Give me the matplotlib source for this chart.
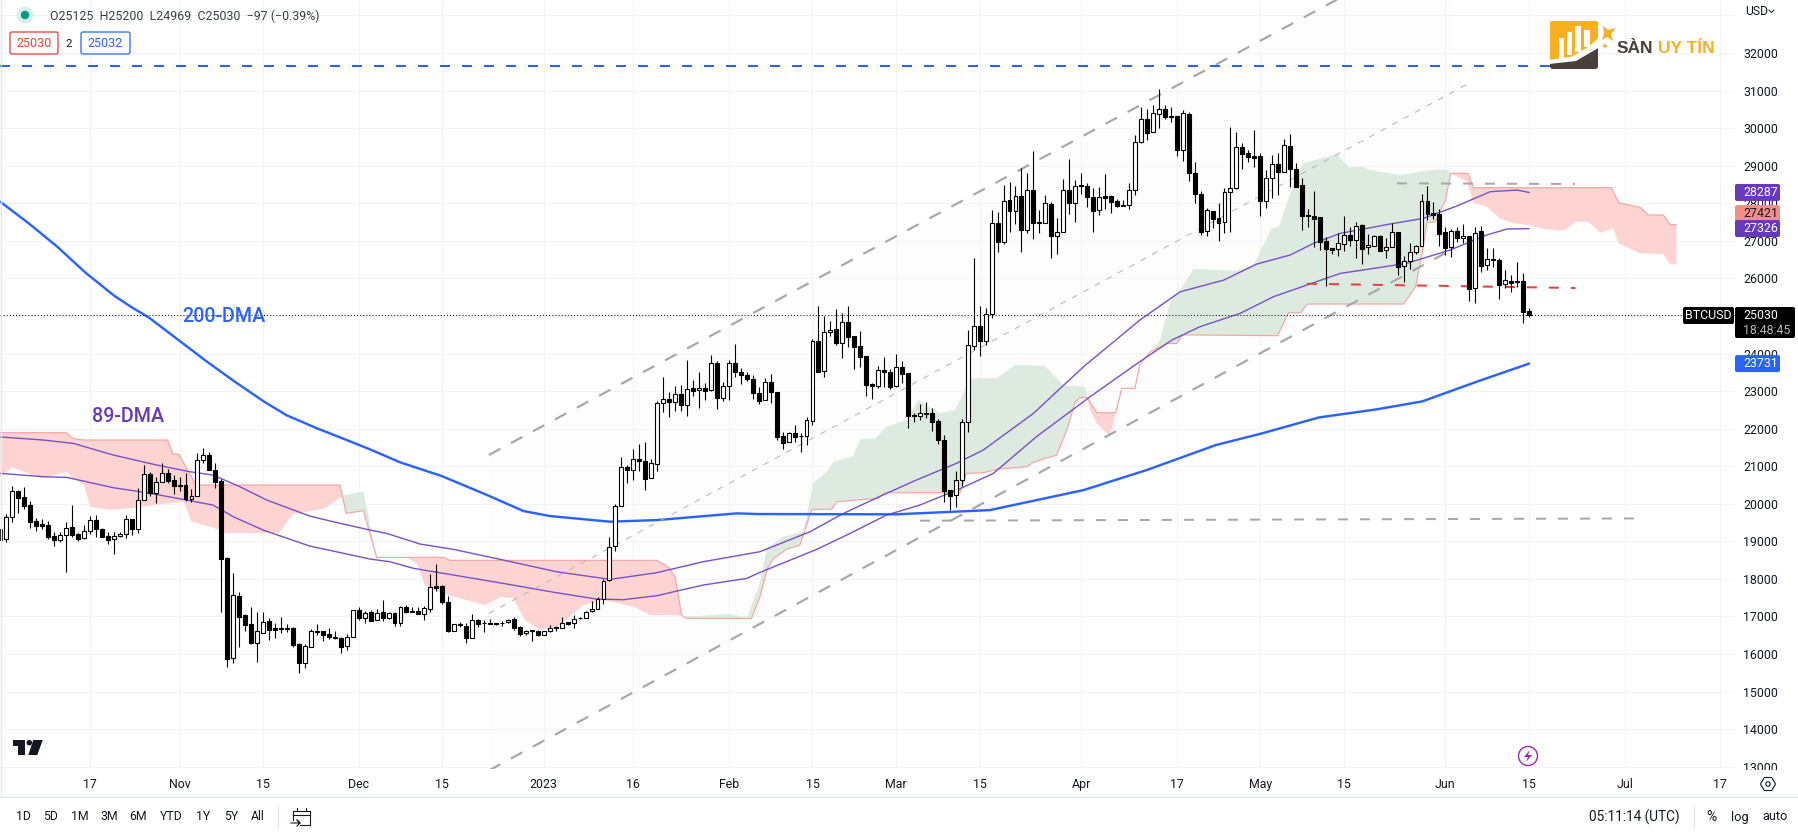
import numpy as np
import matplotlib
matplotlib.use("Agg")
import matplotlib.pyplot as plt
from matplotlib.patches import Rectangle, FancyBboxPatch, Polygon, Circle, RegularPolygon

plt.rcParams['font.family'] = ['Roboto', 'DejaVu Sans']
plt.rcParams['lines.scale_dashes'] = False

# ---- daily BTCUSD candles, 2 Oct 2022 to 15 Jun 2023 ----
opens = [19319,19052,19638,20339,20170,19958,19531,19452,19425,19132,
19043,19159,19372,19185,19079,19265,19567,19319,19132,19052,
19150,19203,19585,19336,20091,20783,20295,20588,20818,20623,
20499,20499,20135,20197,21156,21289,20889,20597,18546,15902,
17552,17029,16789,16301,16567,16869,16692,16692,16683,16683,
16266,15751,16194,16585,16603,16523,16443,16416,16203,16443,
17162,16967,17109,16896,17109,16958,17083,16834,17242,17145,
17145,17074,17207,17810,17810,17375,16621,16790,16745,16435,
16896,16834,16816,16790,16834,16843,16923,16710,16550,16630,
16603,16515,16621,16710,16683,16843,16816,16958,16949,17136,
17189,17455,17961,18866,19931,20979,20890,21183,21130,20677,
21067,22674,22780,22700,22913,22620,23073,23020,23073,23020,
23739,22825,23126,23739,23499,23428,23313,22939,22752,23231,
22965,21794,21634,21874,21812,21794,22193,24323,23525,24572,
24643,24270,24829,24456,24190,23924,23178,23143,23551,23498,
23143,23631,23471,22362,22344,22424,22406,22193,21687,20356,
20223,20622,22184,24199,24740,24341,25042,27465,26977,28077,
27802,28184,27296,28344,27500,27483,27971,27137,27243,28344,
28015,28477,28450,28157,27811,28184,28184,28051,27918,27962,
28344,29630,30234,29905,30385,30500,30322,30314,29426,30367,
28796,28237,27252,27802,27598,27509,28290,28396,29488,29328,
29249,29249,28068,28663,29036,28840,29524,28903,28477,27678,
27660,27625,26985,26799,26790,26923,27145,27030,27412,26826,
26870,27119,26746,26843,27225,26320,26471,26710,26870,28050,
27731,27704,27225,26826,27260,27074,27119,25734,27252,26346,
26506,26480,25841,25920,25920,25920,25125]
highs = [19319,19727,20472,20366,20437,20064,19611,19585,19540,19256,
19239,19505,19958,19212,19434,19673,19691,19354,19239,19239,
19239,19691,19594,20410,21031,20836,20721,21076,20916,20765,
20703,20810,20383,21342,21475,21369,21076,20659,18591,18147,
17641,17055,17242,17126,17109,16967,16825,16976,16789,16727,
16292,16266,16656,16789,16612,16683,16603,16443,16523,17180,
17242,17135,17171,17188,17429,17127,17127,17287,17296,17260,
17260,17278,18121,18396,17837,17544,16799,16861,16816,17056,
16923,16905,16923,16834,16878,16923,16994,16754,16639,16639,
16630,16621,16772,16754,16976,16861,17029,16976,17145,17411,
17526,17988,19106,19994,21236,21032,21458,21591,21635,21183,
22745,23375,22984,23144,23153,23828,23295,23499,23206,23961,
23792,23251,23828,24254,23606,23499,23428,23118,23338,23454,
22983,21918,21900,22096,21891,22300,24377,25264,25007,24856,
25184,25069,25264,24474,24598,23933,23205,23666,23897,23578,
23977,23800,23489,22424,22646,22717,22539,22264,21830,20365,
20871,22264,24625,26542,25264,25220,27820,27776,28486,28574,
28468,28929,28796,29391,27820,28210,28042,27598,28636,29178,
28619,28796,28530,28397,28441,28770,28202,28113,28086,28530,
29817,30553,30500,30615,31041,30615,30553,30314,30482,30420,
29098,28335,27873,27802,27997,28397,30030,29897,29595,29417,
29941,29328,28885,29284,29346,29701,29843,29080,28663,27838,
28326,27634,27092,26799,27198,27660,27376,27491,27438,27181,
27154,27145,27065,27465,27234,26604,26932,26888,28237,28459,
28042,27837,27358,27314,27376,27438,27127,27376,27394,26799,
26799,26533,26222,26089,26435,26134,25200]
lows = [19043,18990,19523,19762,19860,19363,19283,19319,19052,18884,
18990,18191,19105,19017,19061,19194,19123,19105,18937,18671,
19123,19097,19177,19230,20091,20206,20029,20588,20561,20268,
20348,20073,20055,20197,21094,20907,20428,17126,15662,15769,
16194,16612,16266,15795,16550,16372,16425,16567,16576,16194,
15502,15627,16177,16496,16345,16399,16407,16035,16106,16443,
16896,16834,16878,16896,16887,16923,16745,16745,17083,17127,
17065,16905,17127,17686,17322,16594,16621,16710,16302,16435,
16710,16594,16790,16772,16745,16834,16639,16488,16506,16355,
16488,16515,16577,16621,16683,16772,16701,16923,16949,17127,
17189,17340,17935,18751,19931,20553,20633,20881,20375,20677,
20881,22452,22319,22479,22479,22345,22869,22558,22762,23011,
22523,22745,22762,23384,23197,23277,22780,22655,22752,22690,
21696,21466,21634,21652,21386,21572,22087,23516,23383,24465,
24226,23880,24181,23587,23649,22877,22797,23090,23116,23063,
23098,23205,22025,22176,22229,22273,21936,21590,20054,19833,
19921,20480,21918,24092,23942,24226,24953,26711,26915,27243,
27447,26711,27199,27057,27217,27465,26551,26657,27243,27713,
27509,28237,27909,27243,27696,27838,27731,27891,27918,27856,
28210,29595,29683,29905,30012,30234,30172,29266,29133,28601,
28015,27163,27136,27332,27003,27216,27243,28370,28911,29107,
28956,27669,27873,28148,28219,28840,28441,28441,27287,27376,
26844,26755,25805,26648,26595,26728,26861,26533,26382,26648,
26861,26719,26551,26843,26098,25894,26240,26648,26870,27553,
27571,26870,26622,26577,26959,26932,25406,25352,26160,26222,
26311,25441,25734,25645,25778,24820,24969]
closes = [19043,19638,20330,20162,19949,19523,19407,19416,19123,19043,
19159,19363,19177,19061,19265,19558,19336,19123,19043,19150,
19203,19585,19336,20091,20783,20277,20588,20810,20614,20481,
20481,20117,20197,21156,21289,20907,20588,18537,15875,17561,
16993,16780,16292,16603,16860,16647,16647,16674,16665,16248,
15760,16203,16603,16603,16514,16452,16416,16186,16443,17162,
16967,17100,16887,17100,16958,17083,16834,17242,17118,17127,
17074,17225,17775,17766,17375,16612,16790,16763,16435,16896,
16807,16825,16790,16834,16816,16914,16701,16541,16621,16603,
16515,16621,16683,16683,16834,16807,16941,16949,17109,17189,
17455,17935,18858,19931,20970,20890,21183,21130,20668,21076,
22674,22780,22718,22913,22638,23047,23011,23073,23011,23739,
22825,23126,23739,23499,23419,23322,22940,22743,23249,22965,
21785,21625,21874,21785,21794,22220,24323,23516,24563,24634,
24288,24829,24447,24181,23915,23161,23143,23551,23498,23116,
23631,23462,22344,22344,22424,22397,22184,21696,20347,20214,
20622,22167,24217,24740,24341,25042,27465,26977,28051,27802,
28184,27296,28344,27483,27483,27997,27137,27243,28344,28015,
28468,28450,28175,27802,28157,28148,28042,27918,27962,28344,
29639,30234,29879,30394,30500,30305,30305,29426,30394,28814,
28237,27234,27811,27589,27483,28290,28414,29488,29320,29231,
29213,28068,28663,29036,28840,29542,28903,28441,27669,27651,
27589,26977,26790,26764,26932,27145,27021,27385,26790,26879,
27119,26737,26843,27225,26311,26471,26710,26853,28050,27713,
27695,27190,26817,27252,27065,27119,25725,27216,26337,26506,
26480,25832,25947,25885,25894,25113,25030]

# ---- moving averages (day index, price) ----
dma200_x = [0,4.8,9.5,14.3,19.1,22,24.9,29.7,34.5,39.3,44.1,47.9,52.8,58,61.9,67,73.9,81.5,87.6,92,102.1,110,123.3,127,150,165.7,181.4,192,203.6,211.2,220.8,230.4,238.1,247.7,256]
dma200_y = [28038,27458,26847,26145,25534,25229,24954,24374,23794,23245,22725,22359,22023,21697,21449,21100,20739,20233,19807,19674,19523,19567,19745,19727,19720,19832,20365,20900,21566,21871,22298,22512,22725,23275,23731]
ma_up_x = [0,7.2,12.2,18.9,26.2,31.7,35.6,40.1,44.6,51.8,55.7,61.9,64.7,70.3,75.9,84.2,93.1,102.1,109.9,117.7,127.2,135.6,141.2,148.4,153.4,160.1,164.6,173,181.4,190.9,197.6,204.9,210.4,216,219.9,224.4,232.7,238.3,243.9,249.5,254,256]
ma_up_y = [21778,21697,21608,21298,21031,20854,20765,20455,20100,19674,19523,19301,19212,18928,18786,18503,18192,17988,18165,18458,18724,19257,19745,20277,20632,21076,21431,22406,23649,24900,25645,25956,26382,26622,26932,27199,27447,27598,27926,28308,28352,28287]
ma_lo_x = [0,7.2,11.1,14.4,18.9,24.5,30.6,35.6,39,44,51.8,55.7,61.9,65.2,69.2,75.9,84.2,92.8,99.8,104.3,109.9,117.7,125,127.2,136.7,142.3,148.4,154,160.7,166.3,173.5,182.5,190.8,196.2,200.9,207.6,213.2,218.8,224.4,230,235.5,242.8,248.9,252.3,256]
ma_lo_y = [20809,20721,20703,20588,20428,20295,20117,19966,19656,19301,18875,18742,18529,18458,18281,18103,17881,17641,17464,17447,17553,17837,18014,18174,18786,19212,19700,19967,20400,20810,21785,22850,23782,24359,24714,25068,25512,25823,26133,26267,26400,26755,27154,27314,27326]

# ---- Ichimoku spans (day index, price) ----
span_a_x = [0,1.9,7,11.2,12.1,14,15,18.5,23,25.6,30.7,32,35.5,37.8,46.7,49,54.4,56.7,57.3,57.6,60.8,62.1,63,68,69.7,71.1,73.9,81.2,83.9,85.9,87.8,90.4,93.7,97.6,101,106,108.8,113.8,114.1,114.6,122.2,125,127.2,128.3,131,134.5,136.1,138.4,139.5,142.8,144,146.5,148.4,151.8,153.7,157.3,159.9,162.4,166.8,169.9,174.9,178,181.6,182,182.5,183.6,185.8,186.8,192.6,194.2,195.9,197.6,199.8,206.8,209.9,212.9,214.1,216.8,218.2,223.8,225.8,228,229.4,234.4,239.5,242.2,242.9,245.6,246.7,248.9,251.1,253.4,255.9,258.7,261.7,264,265.9,267.9,270.1,271,274.6,278.5,279.6,280.7]
span_a_y = [20721,20970,20677,20854,20677,20499,19922,19834,19905,19967,20056,19523,19372,19213,19230,19727,19878,20144,20190,20233,20322,19301,18573,18574,18414,17837,17615,17304,17526,17482,16905,16639,16772,17304,17437,17260,17038,17029,17030,16994,17065,16967,17881,18786,19124,19257,20544,20854,21120,21271,21715,21742,22052,22230,22762,22407,22496,23339,23339,23694,23675,23161,23116,22830,22495,22140,21803,22424,24045,24358,25379,25690,26249,26205,26355,27332,27376,28618,29062,29311,28956,28974,28885,28752,28885,28903,28797,28575,28016,27910,27599,27466,27421,27306,27270,27510,27510,27217,27333,26933,26667,26649,26374,26374]
span_b_x = [0,11,12.1,14,28,28.9,29.9,32.6,33.3,56.9,57.3,57.9,60.8,63,68,74.2,75.3,109.9,111.8,113,114.1,114.9,125.8,127.2,128.5,129.5,131.7,133.9,135.9,139.2,140.1,143.4,147,148.1,160.7,161.8,164.6,167.1,171.9,173,174.9,176.9,178.6,180,180.8,181.8,182,183.6,186.8,187.8,190,190.8,191.4,192.6,195.3,197,198,213.9,215.7,217.8,218.8,235,237,238.1,238.9,240.3,242,242.9,245.8,246.7,269.8,271,274.6,276,278.5,279.6,280.7]
span_b_y = [21893,21893,21742,21698,21698,21325,21316,20544,20499,20499,20190,19745,19816,18573,18574,18574,18494,18494,18325,18059,17030,16950,16950,17526,18300,18550,18795,18902,19851,19851,20055,20100,20144,20295,20295,20810,20827,20925,20987,21102,21208,21297,21962,22717,22832,22823,22830,22424,22424,23072,23072,23693,23827,24045,24267,24267,24497,24474,25086,25086,25317,25317,25778,26666,27482,27509,28086,28797,28797,28415,28415,28016,27892,27688,27688,27439,27421]
cloud_from = [0,57.3,63,114.1,182,192.6,242.9]
cloud_to = [57.3,63,114.1,182,186.8,242.9,280.7]
cloud_bull = [False,True,False,True,False,True,False]

# ---- drawn lines ----
chan_x = [81.8,243]
chan_low = [12900,26760]
chan_high = [21300,35058]
mid_x = [81.8,245.9]
mid_y = [17083,31192]
resist_top_x = [0,259.5]
resist_top_y = [31654,31654]
support_x = [154,273.7]
support_y = [19550,19610]
gray_top_x = [233.9,263.7]
gray_top_y = [28530,28513]
red_x = [218.8,263.8]
red_y = [25858,25744]
last_price = 25030

tick_pos = [15,30,44,60,74,91,106,122,136,150,164,181,197,211,225,242,256,272,288]
tick_txt = ['17','Nov','15','Dec','15','2023','16','Feb','15','Mar','15','Apr','17','May','15','Jun','15','Jul','17']
price_ticks = list(range(13000,33001,1000))
hidden_price_labels = [25000, 33000]
range_btns = ['1D','5D','1M','3M','6M','YTD','1Y','5Y','All']
range_btn_x = [23,51,80,109,138,171,203,231,258]

PX = 0.72
INK = '#131722'
W, H = 1798, 833
fig = plt.figure(figsize=(W/100, H/100), dpi=100, facecolor='white')
ax = fig.add_axes([0, 1-769/H, 1735/W, 769/H])
ax.set_xlim(-0.07, 290.5)
ax.set_ylim(12940, 33411)
for s in ax.spines.values():
    s.set_visible(False)
ax.grid(True, color='#F1F3F7', lw=1*PX, zorder=1.5)
ax.yaxis.tick_right()
ax.set_yticks(price_ticks)
ax.set_yticklabels([str(v) if v not in hidden_price_labels else '' for v in price_ticks])
ax.set_xticks(tick_pos)
ax.set_xticklabels(tick_txt)
ax.tick_params(axis='both', length=0, labelsize=8.9, labelcolor=INK)
ax.tick_params(axis='y', pad=5.8)
ax.tick_params(axis='x', pad=6.5)

# channel background
ax.fill_between(chan_x, chan_low, chan_high, color='#FDFDFD', lw=0, zorder=1)

# cloud
ax_x = np.array(span_a_x); ax_y = np.array(span_a_y)
bx_x = np.array(span_b_x); bx_y = np.array(span_b_y)
for s, e, bull in zip(cloud_from, cloud_to, cloud_bull):
    ma = (ax_x >= s) & (ax_x <= e)
    mb = (bx_x >= s) & (bx_x <= e)
    px_ = np.r_[ax_x[ma], bx_x[mb][::-1]]
    py_ = np.r_[ax_y[ma], bx_y[mb][::-1]]
    ax.fill(px_, py_, color='#DCEADF' if bull else '#FDD4D1', lw=0, zorder=2)
ax.plot(span_b_x, span_b_y, color='#F6A6A2', lw=1.2*PX, zorder=2.5)

# moving averages
ax.plot(ma_up_x, ma_up_y, color='#7A50C8', lw=1.4*PX, zorder=3)
ax.plot(ma_lo_x, ma_lo_y, color='#7A50C8', lw=1.4*PX, zorder=3)
ax.plot(dma200_x, dma200_y, color='#2962FF', lw=2.4*PX, zorder=3, solid_capstyle='round')

# drawings
GRAY = '#A6A8AE'
gd = (0, (13*PX, 12*PX))
ax.plot(chan_x, chan_high, color=GRAY, lw=2.2*PX, ls=gd, zorder=4)
ax.plot(chan_x, chan_low, color=GRAY, lw=2.2*PX, ls=gd, zorder=4)
ax.plot(mid_x, mid_y, color='#B2B4B9', lw=1*PX, ls=(0, (6*PX, 7*PX)), zorder=4)
ax.plot(support_x, support_y, color=GRAY, lw=2*PX, ls=(0, (10*PX, 12*PX)), zorder=4)
ax.plot(gray_top_x, gray_top_y, color=GRAY, lw=2*PX, ls=(0, (10*PX, 12*PX)), zorder=4)
ax.plot(red_x, red_y, color='#E8403C', lw=2*PX, ls=(0, (10*PX, 12*PX)), zorder=4)
ax.plot(resist_top_x, resist_top_y, color='#2962FF', lw=2*PX, ls=(0, (10*PX, 12*PX)), zorder=4)
ax.axhline(last_price, color=INK, lw=1*PX, ls=(0, (1.1*PX, 2*PX)), zorder=4)

# candles
idx = np.arange(len(opens))
o = np.array(opens); c = np.array(closes); hi = np.array(highs); lo = np.array(lows)
ax.vlines(idx, lo, hi, color='black', lw=1.1*PX, zorder=5)
up = c >= o
body_lo = np.minimum(o, c); body_h = np.abs(c-o)
ax.bar(idx[up], body_h[up], bottom=body_lo[up], width=0.66, facecolor='white', edgecolor='black', lw=1.1*PX, zorder=6)
ax.bar(idx[~up], body_h[~up], bottom=body_lo[~up], width=0.66, facecolor='black', edgecolor='black', lw=1.1*PX, zorder=6)

# ---- chrome in pixel coordinates ----
ui = fig.add_axes([0, 0, 1, 1])
ui.set_xlim(0, W); ui.set_ylim(H, 0); ui.axis('off')
ui.patch.set_alpha(0)

def price_y(p):
    return 53 + (32000-p)*0.03756

def txt(x, y, s, size=8.9, color=INK, ha='center', va='center', **kw):
    return ui.text(x, y, s, fontsize=size, color=color, ha=ha, va=va, zorder=9, **kw)

def badge(x0, x1, y0, y1, fc, ec='none', lw=0, r=2):
    ui.add_patch(FancyBboxPatch((x0+r, y0+r), x1-x0-2*r, y1-y0-2*r,
                 boxstyle=f'round,pad={r},rounding_size={r}', fc=fc, ec=ec, lw=lw, zorder=8))

# masks and separators
ui.add_patch(Rectangle((1735, 770), 63, 27, fc='white', ec='none', zorder=1))
ui.plot([0, W], [797, 797], color='#E0E3EB', lw=1.2*PX)
ui.plot([1, 1], [0, 797], color='#E4E7EF', lw=1.4*PX)
ui.plot([277.5, 277.5], [806, 828], color='#E0E3EB', lw=1*PX)
ui.plot([1694, 1694], [806, 828], color='#E0E3EB', lw=1*PX)

# text labels on the chart
txt(224, 317, '200-DMA', size=14.2, color='#2962FF', fontweight='medium')
txt(128, 416, '89-DMA', size=14.2, color='#673AB7', fontweight='medium')

# header
ui.add_patch(Circle((25, 15), 8.5, fc='#D5EFEA', ec='none'))
ui.add_patch(Circle((25, 15), 4.2, fc='#089981', ec='none'))
txt(50, 16.5, 'O25125  H25200  L24969  C25030  \u221297 (\u22120.39%)', size=8.9, color='#3A3E48', ha='left')
badge(10, 58, 32, 54, 'white', ec='#E53935', lw=0.9)
txt(34, 43.5, '25030', size=9, color='#E5452F')
txt(69, 43.5, '2', size=8.2)
badge(81, 130, 32, 54, 'white', ec='#2962FF', lw=0.9)
txt(105.5, 43.5, '25032', size=9, color='#2962FF')

# price badges
for val, fc, tc in [(28287, '#673AB7', 'white'), (27421, '#F28E86', INK), (27326, '#673AB7', 'white'), (23731, '#2962FF', 'white')]:
    yc = price_y(val)
    if val == 27421:
        yc = 213.5
    badge(1735, 1780, yc-8.5, yc+8.5, fc)
    txt(1743, yc+0.3, str(val), color=tc, ha='left')
badge(1683, 1734, 307, 324, 'black')
txt(1708.5, 315.5, 'BTCUSD', color='white')
badge(1735, 1795, 307, 338, 'black')
txt(1743, 315.5, '25030', color='white', ha='left')
txt(1743, 330, '18:48:45', color='#B5B5B5', ha='left')

txt(1745, 11, 'USD', ha='left', size=8.7)
ui.plot([1769, 1771.5, 1774], [10, 12.5, 10], color=INK, lw=0.7)

# site logo
ui.add_patch(FancyBboxPatch((1552, 23), 44, 44, boxstyle='round,pad=2,rounding_size=2', fc='#F9B020', ec='none', zorder=6))
ui.add_patch(Polygon([(1550, 62), (1574, 60), (1598, 48), (1598, 67), (1596, 69), (1552, 69), (1550, 67)], fc='#4A3F3A', ec='none', zorder=6))
ui.add_patch(Polygon([(1549, 60), (1572, 56.5), (1590, 46), (1604, 32), (1600, 47), (1576, 61), (1549, 64)], fc='white', ec='none', zorder=7))
for x0, x1, y0, y1 in [(1558.5, 1563.5, 38, 58), (1567, 1572, 32, 55), (1575, 1581, 26, 52), (1584, 1590, 30, 47)]:
    ui.add_patch(Rectangle((x0, y0), x1-x0, y1-y0, fc='white', ec='none', zorder=7))
ui.add_patch(Polygon([(1603, 26), (1608, 30), (1616, 28), (1611, 34), (1613, 41), (1607, 37), (1602, 40), (1604, 33)], fc='#F9B020', ec='none', zorder=7))
ui.add_patch(Polygon([(1605, 43), (1606, 45), (1608, 46), (1606, 47), (1605, 49), (1604, 47), (1602, 46), (1604, 45)], fc='#F9B020', ec='none', zorder=7))
ui.text(1617, 48, 'S\u00c0N', fontsize=12.5, fontweight='bold', family='Liberation Sans', color='#4A3F3A', ha='left', va='center', zorder=7)
ui.text(1658, 48, 'UY T\u00cdN', fontsize=12.5, fontweight='bold', family='Liberation Sans', color='#F9B020', ha='left', va='center', zorder=7)

# TradingView mark
ui.add_patch(Polygon([(13, 740), (25, 740), (25, 755), (18, 755), (18, 746), (13, 746)], fc=INK, ec='none'))
ui.add_patch(Circle((29.3, 742.7), 2.8, fc=INK, ec='none'))
ui.add_patch(Polygon([(33.3, 740), (42.7, 740), (37.3, 755), (28.3, 755)], fc=INK, ec='none'))

# flash icon and gear
ui.add_patch(Circle((1528, 756), 9.5, fc='white', ec='#9C27B0', lw=1.0))
ui.add_patch(Polygon([(1530, 750), (1524, 757), (1528, 757), (1526, 762), (1532, 755), (1528, 755)], fc='#9C27B0', ec='none'))
ui.add_patch(RegularPolygon((1768, 784), 6, radius=7.5, fc='white', ec=INK, lw=0.8, orientation=np.pi/6))
ui.add_patch(Circle((1768, 784), 2.2, fc='white', ec=INK, lw=0.8))

# bottom toolbar
for lbl, x in zip(range_btns, range_btn_x):
    txt(x, 817, lbl, size=8.8)
ui.plot([293, 293, 310, 310, 300], [820, 811, 811, 825, 825], color=INK, lw=0.8)
ui.plot([293, 310], [815, 815], color=INK, lw=0.8)
ui.plot([297, 297], [808, 811], color=INK, lw=0.8)
ui.plot([306, 306], [808, 811], color=INK, lw=0.8)
ui.plot([291, 300, 297, 300, 297], [823, 823, 820, 823, 826], color=INK, lw=0.8)
txt(1589, 817, '05:11:14 (UTC)', size=9.8, ha='left')
txt(1711, 817, '%', size=10)
txt(1740, 817, 'log', size=9.2)
txt(1775, 817, 'auto', size=9.2)

fig.savefig('out.png', dpi=100, facecolor='white')
